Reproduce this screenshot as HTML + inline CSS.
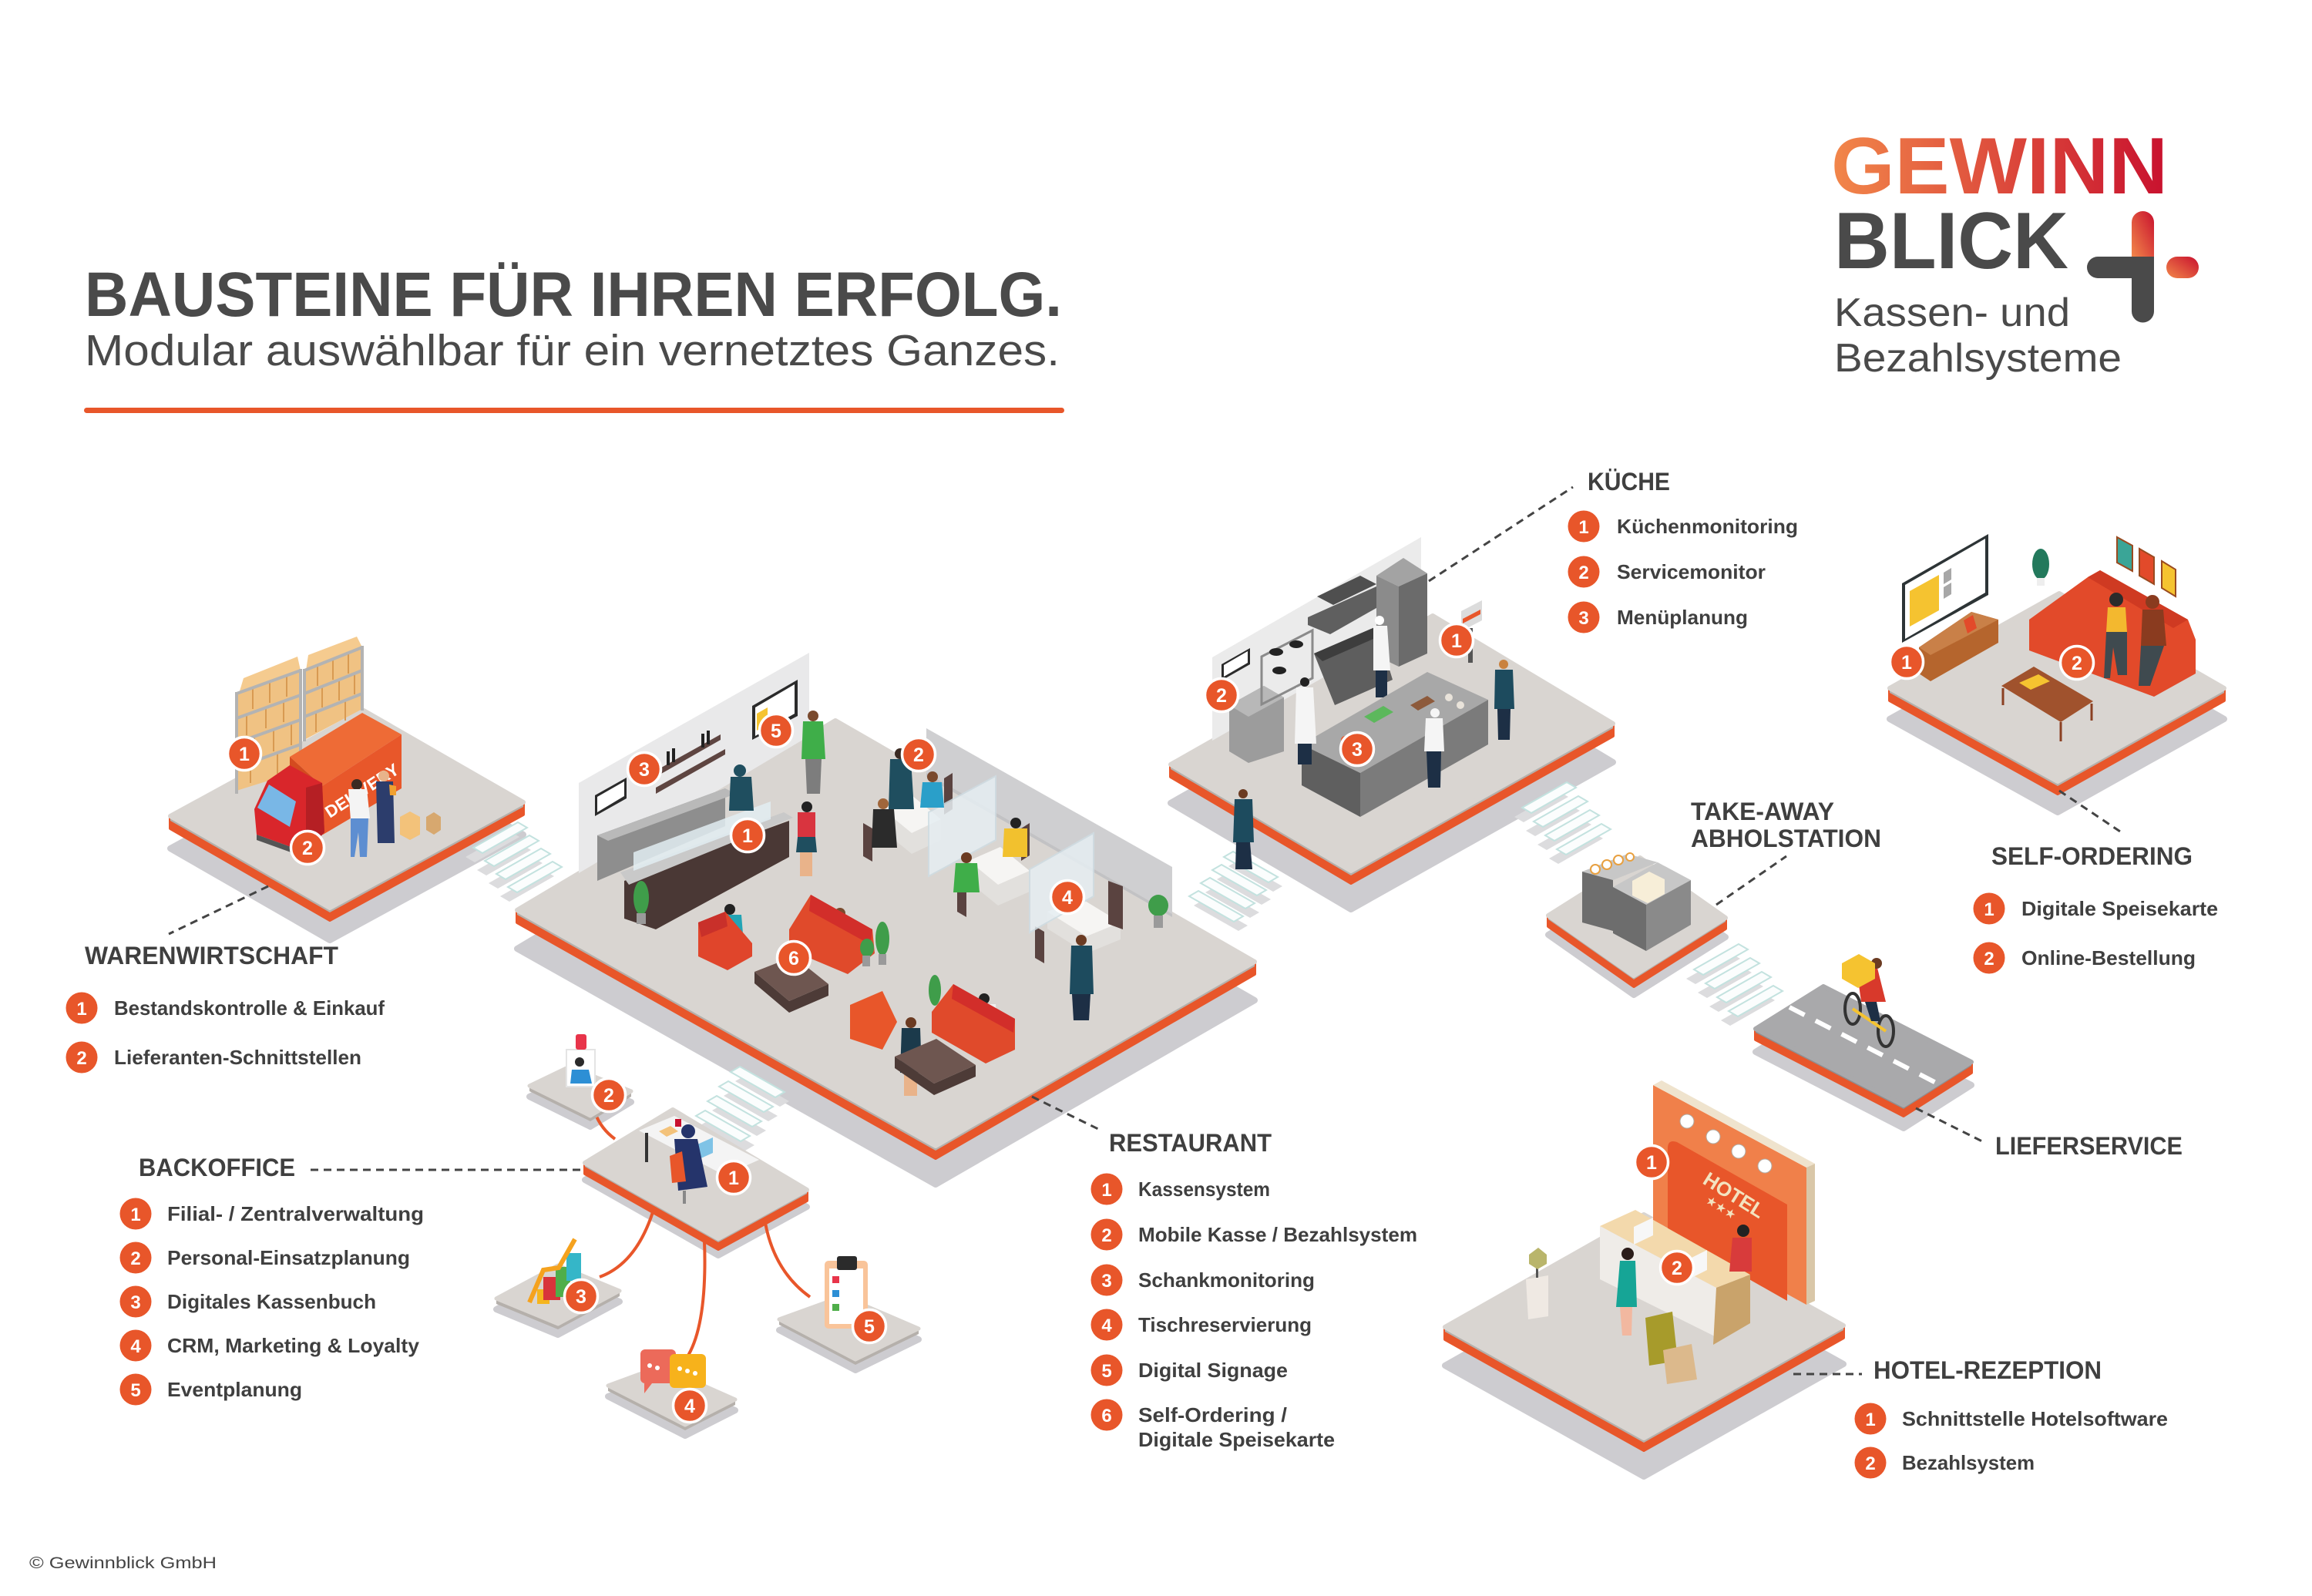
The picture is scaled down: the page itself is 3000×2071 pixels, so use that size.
<!DOCTYPE html>
<html><head><meta charset="utf-8"><style>
html,body{margin:0;padding:0;background:#fff;}
svg{display:block;}
</style></head><body>
<svg width="3000" height="2071" viewBox="0 0 3000 2071" xmlns="http://www.w3.org/2000/svg" font-family="'Liberation Sans', Arial, sans-serif">
<defs>
<linearGradient id="lg" gradientUnits="userSpaceOnUse" x1="2376" y1="0" x2="2816" y2="0"><stop offset="0" stop-color="#f2874a"/><stop offset="1" stop-color="#c8102e"/></linearGradient>
<linearGradient id="lgv" x1="0" y1="1" x2="1" y2="0"><stop offset="0" stop-color="#f2874a"/><stop offset="1" stop-color="#c8102e"/></linearGradient>
</defs>
<rect width="3000" height="2071" fill="#fff"/>

<!-- TITLE -->
<text x="110" y="410" font-size="82" font-weight="bold" fill="#4a4a4a" textLength="1268" lengthAdjust="spacingAndGlyphs">BAUSTEINE FÜR IHREN ERFOLG.</text>
<text x="110" y="474" font-size="57" fill="#4a4a4a" textLength="1265" lengthAdjust="spacingAndGlyphs">Modular auswählbar für ein vernetztes Ganzes.</text>
<rect x="109" y="529" width="1272" height="7" rx="3.5" fill="#e8562a"/>

<!-- LOGO -->
<text x="2376" y="251" font-size="104" font-weight="bold" fill="url(#lg)" textLength="437" lengthAdjust="spacingAndGlyphs">GEWINN</text>
<text x="2380" y="348" font-size="104" font-weight="bold" fill="#4a4a4a" textLength="304" lengthAdjust="spacingAndGlyphs">BLICK</text>
<path d="M2766 333 V288.5 A14.5 14.5 0 0 1 2795 288.5 V333 Z" fill="url(#lgv)"/>
<path d="M2722 333 H2795 V404 A14.5 14.5 0 0 1 2766 404 V361 H2722 A14 14 0 0 1 2722 333 Z" fill="#4a4a4a"/>
<rect x="2811" y="333" width="42" height="28" rx="14" fill="url(#lgv)"/>
<text x="2380" y="423" font-size="52" fill="#4a4a4a" textLength="306" lengthAdjust="spacingAndGlyphs">Kassen- und</text>
<text x="2380" y="482" font-size="52" fill="#4a4a4a" textLength="373" lengthAdjust="spacingAndGlyphs">Bezahlsysteme</text>

<!-- SHADOWS -->
<g fill="#cdccd0" stroke="#cdccd0" stroke-width="8" stroke-linejoin="round">
<polygon points="221,1101 472,964 679,1083 428,1220"/>
<polygon points="671,1231 1084,985 1628,1298 1214,1537"/>
<polygon points="1519,1042 1859,849 2093,989 1753,1180"/>
<polygon points="2452,933 2672,810 2886,933 2670,1054"/>
<polygon points="2009,1213 2128,1138 2239,1216 2120,1291"/>
<polygon points="2278,1365 2366,1310 2558,1408 2470,1464"/>
<polygon points="1875,1772 2133,1626 2392,1770 2133,1916"/>
<polygon points="759,1531 873,1462 1047,1566 932,1629"/>
<polygon points="687,1423 739,1398 819,1430 766,1462"/>
<polygon points="644,1699 724,1656 804,1689 724,1732"/>
<polygon points="789,1812 857,1787 954,1830 889,1863"/>
<polygon points="1011,1726 1094,1696 1192,1738 1110,1778"/>
</g>

<!-- STEPPING STONES shadows -->
<g fill="#dcdcde">
<polygon points="604,1112 662,1079 674,1086 616,1119"/><polygon points="619,1129 677,1096 689,1103 631,1136"/><polygon points="634,1146 692,1113 704,1120 646,1153"/><polygon points="649,1163 707,1130 719,1137 661,1170"/>
<polygon points="1606,1117 1664,1150 1652,1157 1594,1124"/><polygon points="1591,1134 1649,1167 1637,1174 1579,1141"/><polygon points="1576,1151 1634,1184 1622,1191 1564,1158"/><polygon points="1561,1168 1619,1201 1607,1208 1549,1175"/>
<polygon points="966,1396 1024,1429 1012,1436 954,1403"/><polygon points="951,1415 1009,1448 997,1455 939,1422"/><polygon points="936,1434 994,1467 982,1474 924,1441"/><polygon points="921,1453 979,1486 967,1493 909,1460"/>
<polygon points="1965,1060 2023,1027 2035,1034 1977,1067"/><polygon points="1980,1078 2038,1045 2050,1052 1992,1085"/><polygon points="1995,1096 2053,1063 2065,1070 2007,1103"/><polygon points="2010,1114 2068,1081 2080,1088 2022,1121"/>
<polygon points="2188,1270 2246,1237 2258,1244 2200,1277"/><polygon points="2203,1288 2261,1255 2273,1262 2215,1295"/><polygon points="2218,1306 2276,1273 2288,1280 2230,1313"/><polygon points="2233,1324 2291,1291 2303,1298 2245,1331"/>
</g>
<g fill="#fbfdfd" stroke="#c3e2df" stroke-width="2">
<polygon points="614,1100 672,1067 684,1074 626,1107"/><polygon points="629,1117 687,1084 699,1091 641,1124"/><polygon points="644,1134 702,1101 714,1108 656,1141"/><polygon points="659,1151 717,1118 729,1125 671,1158"/>
<polygon points="1600,1105 1658,1138 1646,1145 1588,1112"/><polygon points="1585,1122 1643,1155 1631,1162 1573,1129"/><polygon points="1570,1139 1628,1172 1616,1179 1558,1146"/><polygon points="1555,1156 1613,1189 1601,1196 1543,1163"/>
<polygon points="960,1384 1018,1417 1006,1424 948,1391"/><polygon points="945,1403 1003,1436 991,1443 933,1410"/><polygon points="930,1422 988,1455 976,1462 918,1429"/><polygon points="915,1441 973,1474 961,1481 903,1448"/>
<polygon points="1975,1048 2033,1015 2045,1022 1987,1055"/><polygon points="1990,1066 2048,1033 2060,1040 2002,1073"/><polygon points="2005,1084 2063,1051 2075,1058 2017,1091"/><polygon points="2020,1102 2078,1069 2090,1076 2032,1109"/>
<polygon points="2198,1258 2256,1225 2268,1232 2210,1265"/><polygon points="2213,1276 2271,1243 2283,1250 2225,1283"/><polygon points="2228,1294 2286,1261 2298,1268 2240,1301"/><polygon points="2243,1312 2301,1279 2313,1286 2255,1319"/>
</g>

<!-- BACKOFFICE CONNECTORS -->
<g fill="none" stroke="#e8562a" stroke-width="4">
<path d="M772 1444 Q780 1465 798 1478"/>
<path d="M847 1573 Q825 1640 778 1657"/>
<path d="M914 1610 Q918 1720 891 1762"/>
<path d="M993 1587 Q1005 1650 1051 1683"/>
</g>

<!-- PLATFORMS -->
<g stroke-linejoin="round">
<polygon points="221,1059 428,1178 679,1041 679,1057 428,1194 221,1075" fill="#e8562a" stroke="#e8562a" stroke-width="4"/>
<polygon points="221,1059 428,1178 679,1041 679,1047 428,1184 221,1065" fill="#b5b0ab"/>
<polygon points="221,1059 472,922 679,1041 428,1178" fill="#d9d5d1" stroke="#d9d5d1" stroke-width="6"/>
<polygon points="671,1181 1214,1487 1628,1248 1628,1264 1214,1503 671,1197" fill="#e8562a" stroke="#e8562a" stroke-width="4"/>
<polygon points="671,1181 1214,1487 1628,1248 1628,1254 1214,1493 671,1187" fill="#b5b0ab"/>
<polygon points="671,1181 1084,935 1628,1248 1214,1487" fill="#d9d5d1" stroke="#d9d5d1" stroke-width="6"/>
<polygon points="1519,992 1753,1130 2093,939 2093,955 1753,1146 1519,1008" fill="#e8562a" stroke="#e8562a" stroke-width="4"/>
<polygon points="1519,992 1753,1130 2093,939 2093,945 1753,1136 1519,998" fill="#b5b0ab"/>
<polygon points="1519,992 1859,799 2093,939 1753,1130" fill="#d9d5d1" stroke="#d9d5d1" stroke-width="6"/>
<polygon points="2452,893 2670,1014 2886,893 2886,909 2670,1030 2452,909" fill="#e8562a" stroke="#e8562a" stroke-width="4"/>
<polygon points="2452,893 2670,1014 2886,893 2886,899 2670,1020 2452,899" fill="#b5b0ab"/>
<polygon points="2452,893 2672,770 2886,893 2670,1014" fill="#d9d5d1" stroke="#d9d5d1" stroke-width="6"/>
<polygon points="2009,1188 2120,1266 2239,1191 2239,1205 2120,1280 2009,1202" fill="#e8562a" stroke="#e8562a" stroke-width="4"/>
<polygon points="2009,1188 2120,1266 2239,1191 2239,1196 2120,1271 2009,1193" fill="#b5b0ab"/>
<polygon points="2009,1188 2128,1113 2239,1191 2120,1266" fill="#d9d5d1" stroke="#d9d5d1" stroke-width="6"/>
<polygon points="2278,1335 2470,1434 2558,1378 2558,1392 2470,1448 2278,1349" fill="#e8562a" stroke="#e8562a" stroke-width="4"/>
<polygon points="2278,1335 2470,1434 2558,1378 2558,1383 2470,1439 2278,1340" fill="#8f8f91"/>
<polygon points="2278,1335 2366,1280 2558,1378 2470,1434" fill="#a9a9ab" stroke="#a9a9ab" stroke-width="6"/>
<line x1="2322" y1="1307" x2="2514" y2="1406" stroke="#ffffff" stroke-width="6" stroke-dasharray="22 16"/>
<polygon points="1875,1722 2133,1866 2392,1720 2392,1736 2133,1882 1875,1738" fill="#e8562a" stroke="#e8562a" stroke-width="4"/>
<polygon points="1875,1722 2133,1866 2392,1720 2392,1726 2133,1872 1875,1728" fill="#b5b0ab"/>
<polygon points="1875,1722 2133,1576 2392,1720 2133,1866" fill="#d9d5d1" stroke="#d9d5d1" stroke-width="6"/>
<polygon points="759,1509 932,1607 1047,1544 1047,1558 932,1621 759,1523" fill="#e8562a" stroke="#e8562a" stroke-width="4"/>
<polygon points="759,1509 932,1607 1047,1544 1047,1549 932,1612 759,1514" fill="#b5b0ab"/>
<polygon points="759,1509 873,1440 1047,1544 932,1607" fill="#d9d5d1" stroke="#d9d5d1" stroke-width="6"/>
<polygon points="687,1409 766,1448 819,1416 819,1423 766,1455 687,1416" fill="#b5b0ab"/>
<polygon points="687,1409 739,1384 819,1416 766,1448" fill="#d9d5d1" stroke="#d9d5d1" stroke-width="5"/>
<polygon points="644,1685 724,1718 804,1675 804,1682 724,1725 644,1692" fill="#b5b0ab"/>
<polygon points="644,1685 724,1642 804,1675 724,1718" fill="#d9d5d1" stroke="#d9d5d1" stroke-width="5"/>
<polygon points="789,1798 889,1849 954,1816 954,1823 889,1856 789,1805" fill="#b5b0ab"/>
<polygon points="789,1798 857,1773 954,1816 889,1849" fill="#d9d5d1" stroke="#d9d5d1" stroke-width="5"/>
<polygon points="1011,1712 1110,1764 1192,1724 1192,1731 1110,1771 1011,1719" fill="#b5b0ab"/>
<polygon points="1011,1712 1094,1682 1192,1724 1110,1764" fill="#d9d5d1" stroke="#d9d5d1" stroke-width="5"/>
</g>

<!-- WARENWIRTSCHAFT SCENE -->
<g>
<polygon points="307,900 390,870 390,1000 307,1026" fill="#f0c283"/>
<polygon points="310,900 316,880 386,852 390,870" fill="#f5cb8f"/>
<polygon points="395,870 470,840 470,920 395,960" fill="#f0c283"/>
<polygon points="397,870 400,850 463,826 470,840" fill="#f5cb8f"/>
<g stroke="#d89a52" stroke-width="2">
<line x1="328" y1="893" x2="328" y2="920"/><line x1="350" y1="885" x2="350" y2="912"/><line x1="372" y1="877" x2="372" y2="904"/>
<line x1="320" y1="927" x2="320" y2="954"/><line x1="345" y1="918" x2="345" y2="945"/><line x1="368" y1="910" x2="368" y2="937"/>
<line x1="330" y1="956" x2="330" y2="984"/><line x1="355" y1="947" x2="355" y2="975"/><line x1="378" y1="939" x2="378" y2="967"/>
<line x1="325" y1="988" x2="325" y2="1016"/><line x1="360" y1="976" x2="360" y2="1004"/>
<line x1="412" y1="863" x2="412" y2="890"/><line x1="432" y1="855" x2="432" y2="882"/><line x1="452" y1="847" x2="452" y2="874"/>
<line x1="418" y1="891" x2="418" y2="918"/><line x1="440" y1="882" x2="440" y2="909"/><line x1="460" y1="874" x2="460" y2="901"/>
<line x1="410" y1="923" x2="410" y2="950"/><line x1="448" y1="908" x2="448" y2="935"/>
</g>
<g stroke="#b3b3b3" stroke-width="4"><line x1="307" y1="900" x2="390" y2="870"/><line x1="307" y1="932" x2="390" y2="902"/><line x1="307" y1="964" x2="390" y2="934"/><line x1="307" y1="996" x2="390" y2="966"/><line x1="307" y1="898" x2="307" y2="1030"/><line x1="390" y1="868" x2="390" y2="1002"/></g>
<g stroke="#b3b3b3" stroke-width="4"><line x1="395" y1="870" x2="470" y2="840"/><line x1="395" y1="900" x2="470" y2="870"/><line x1="395" y1="930" x2="470" y2="900"/><line x1="395" y1="868" x2="395" y2="962"/><line x1="470" y1="838" x2="470" y2="922"/></g>
<polygon points="376,982 470,925 521,953 418,1020" fill="#ee6b36"/>
<polygon points="418,1020 521,953 521,1023 419,1083" fill="#e8572a"/>
<polygon points="376,982 418,1020 419,1083 376,1050" fill="#d44b1f"/>
<text x="428" y="1062" font-size="22" font-weight="bold" fill="#fff" transform="rotate(-33 428 1062)">DELIVERY</text>
<polygon points="330,1050 347,1013 376,993 418,1016 421,1080 397,1106 333,1083" fill="#d9262b"/>
<polygon points="397,1022 418,1016 421,1080 397,1106" fill="#b51f24"/>
<polygon points="334,1048 349,1018 384,1040 376,1073" fill="#79b7e6"/>
<polygon points="333,1083 397,1106 397,1113 333,1090" fill="#555"/>
<circle cx="463" cy="1018" r="7" fill="#3a2a22"/>
<polygon points="452,1024 476,1024 480,1062 455,1064" fill="#f4f4f4"/>
<polygon points="455,1062 478,1062 476,1112 467,1112 465,1080 460,1112 455,1112" fill="#5d8ed1"/>
<circle cx="498" cy="1007" r="7" fill="#e8b38a"/>
<polygon points="488,1014 510,1014 512,1094 490,1094" fill="#2c3d6c"/>
<polygon points="505,1018 514,1020 514,1032 506,1032" fill="#f0a030"/>
<polygon points="519,1060 532,1053 545,1060 545,1083 532,1090 519,1083" fill="#f3c27a"/>
<polygon points="553,1060 563,1054 572,1060 572,1077 563,1083 553,1077" fill="#d7a86f"/>
</g>

<!-- RESTAURANT SCENE -->
<g>
<polygon points="751,1016 1050,847 1050,955 751,1133" fill="#e9e9ea"/>
<polygon points="1202,945 1521,1125 1521,1186 1202,1003" fill="#cfcfd1"/>
<polygon points="772,1032 813,1009 813,1036 772,1059" fill="#2b2b2b"/>
<polygon points="775,1034 810,1014 810,1033 775,1054" fill="#fff"/>
<polygon points="976,916 1035,882 1035,929 976,960" fill="#2b2b2b"/>
<polygon points="980,918 1031,888 1031,926 980,955" fill="#fff"/>
<polygon points="982,926 996,918 996,940 982,948" fill="#f5c330"/>
<polygon points="851,1000 935,953 935,960 851,1008" fill="#5e4541"/>
<polygon points="851,1022 941,972 941,979 851,1030" fill="#5e4541"/>
<g fill="#222"><rect x="865" y="975" width="4" height="18"/><rect x="872" y="971" width="4" height="18"/><rect x="910" y="952" width="4" height="18"/><rect x="917" y="948" width="4" height="18"/></g>
<polygon points="775,1084 941,1023 941,1072 775,1143" fill="#8e8e8e"/>
<polygon points="775,1084 941,1023 955,1030 789,1091" fill="#b9b9b9"/>
<polygon points="810,1143 1024,1065 1024,1112 851,1206 810,1192" fill="#4a3835"/>
<polygon points="805,1132 1017,1054 1029,1061 816,1148" fill="#c9c9c9"/>
<polygon points="822,1130 1000,1063 1000,1040 822,1106" fill="#e2edf2" opacity="0.85"/>
<circle cx="960" cy="1000" r="8" fill="#1f4e5f"/><polygon points="948,1008 975,1008 978,1052 946,1052" fill="#1f4e5f"/>
<polygon points="1202,1003 1521,1186 1521,1190 1202,1008" fill="#c2c2c4"/>
<polygon points="1145,1050 1183,1081 1221,1063 1221,1090 1183,1108 1145,1077" fill="#e2e0dd"/>
<polygon points="1145,1050 1183,1032 1221,1063 1183,1081" fill="#f6f5f3"/>
<polygon points="1257,1117 1295,1148 1336,1130 1336,1157 1295,1175 1257,1144" fill="#e2e0dd"/>
<polygon points="1257,1117 1298,1099 1336,1130 1295,1148" fill="#f6f5f3"/>
<polygon points="1359,1183 1410,1215 1454,1197 1454,1219 1410,1237 1359,1205" fill="#e2e0dd"/>
<polygon points="1359,1183 1403,1166 1454,1197 1410,1215" fill="#f6f5f3"/>
<g fill="#5a4340">
<polygon points="1120,1068 1132,1075 1132,1118 1120,1111"/><polygon points="1242,1137 1254,1144 1254,1190 1242,1183"/>
<polygon points="1343,1202 1355,1209 1355,1250 1343,1243"/><polygon points="1438,1143 1457,1150 1457,1206 1438,1199"/>
<polygon points="1225,1010 1236,1003 1236,1050 1225,1057"/><polygon points="1325,1075 1336,1068 1336,1110 1325,1117"/>
</g>
<polygon points="1205,1054 1292,1007 1292,1090 1205,1137" fill="#e6eef2" opacity="0.85" stroke="#cfdde3" stroke-width="2"/>
<polygon points="1336,1128 1419,1081 1419,1163 1336,1210" fill="#e6eef2" opacity="0.85" stroke="#cfdde3" stroke-width="2"/>
<circle cx="1055" cy="929" r="7" fill="#7a4a2e"/><polygon points="1042,936 1068,936 1071,985 1040,985" fill="#3fae49"/><polygon points="1045,985 1066,985 1064,1030 1047,1030" fill="#7d7d7d"/>
<circle cx="1047" cy="1047" r="7" fill="#222"/><polygon points="1035,1054 1058,1054 1058,1086 1035,1086" fill="#d9343f"/><polygon points="1035,1086 1058,1086 1060,1106 1033,1106" fill="#1f4e5f"/><polygon points="1038,1106 1054,1106 1054,1137 1038,1137" fill="#e9b38a"/>
<circle cx="1168" cy="978" r="7" fill="#3a2a22"/><polygon points="1155,985 1182,985 1186,1050 1153,1050" fill="#1f4e5f"/>
<circle cx="1210" cy="1008" r="7" fill="#7a4a2e"/><polygon points="1197,1015 1222,1015 1225,1048 1194,1048" fill="#2a9fc9"/>
<circle cx="1146" cy="1043" r="7" fill="#a0663b"/><polygon points="1133,1050 1160,1050 1164,1100 1131,1100" fill="#2b2b2b"/>
<circle cx="1318" cy="1068" r="7" fill="#222"/><polygon points="1303,1075 1333,1075 1333,1112 1301,1112" fill="#f2c12e"/>
<circle cx="1254" cy="1113" r="7" fill="#6b3b22"/><polygon points="1240,1120 1268,1120 1271,1158 1237,1158" fill="#3fae49"/>
<circle cx="947" cy="1180" r="7" fill="#222"/><polygon points="932,1187 962,1187 966,1236 928,1236" fill="#22a4b5"/>
<circle cx="1090" cy="1185" r="7" fill="#7a4a2e"/><polygon points="1076,1192 1104,1192 1107,1228 1070,1228" fill="#f2c12e"/>
<circle cx="1277" cy="1296" r="7" fill="#222"/><polygon points="1262,1303 1292,1303 1295,1345 1258,1345" fill="#f0f0f0"/>
<circle cx="1182" cy="1327" r="7" fill="#6b3b22"/><polygon points="1170,1334 1194,1334 1196,1392 1168,1392" fill="#1b3a4b"/><polygon points="1173,1392 1190,1392 1190,1422 1173,1422" fill="#e9b38a"/>
<circle cx="1403" cy="1220" r="7" fill="#6b3b22"/><polygon points="1390,1227 1417,1227 1419,1290 1388,1290" fill="#1d4b5e"/><polygon points="1391,1290 1415,1290 1413,1324 1393,1324" fill="#1d2f45"/>
<polygon points="906,1197 941,1183 976,1224 976,1241 944,1259 906,1241" fill="#e0452b"/>
<polygon points="906,1197 941,1183 944,1202 910,1216" fill="#c9302a"/>
<polygon points="1024,1206 1052,1161 1132,1206 1135,1237 1100,1264 1024,1232" fill="#e04a2b"/>
<polygon points="1052,1161 1132,1206 1130,1226 1050,1182" fill="#d22e2a"/>
<polygon points="979,1261 1024,1299 1075,1277 1075,1292 1024,1314 979,1276" fill="#4d3b37"/>
<polygon points="979,1261 1030,1241 1075,1277 1024,1299" fill="#6e5650"/>
<polygon points="1103,1304 1145,1286 1164,1326 1145,1362 1103,1348" fill="#e8562a"/>
<polygon points="1209,1313 1237,1277 1317,1322 1317,1362 1279,1380 1209,1340" fill="#e04a2b"/>
<polygon points="1237,1277 1317,1322 1315,1340 1235,1296" fill="#d22e2a"/>
<polygon points="1161,1371 1212,1406 1266,1382 1266,1397 1212,1421 1161,1386" fill="#4d3b37"/>
<polygon points="1161,1371 1215,1348 1266,1382 1212,1406" fill="#6e5650"/>
<g fill="#3f9d4a"><ellipse cx="832" cy="1165" rx="10" ry="22"/><ellipse cx="1503" cy="1175" rx="13" ry="14"/><ellipse cx="1145" cy="1218" rx="9" ry="22"/><ellipse cx="1213" cy="1285" rx="8" ry="20"/><ellipse cx="1125" cy="1230" rx="9" ry="12"/></g>
<g fill="#9a9a9a"><rect x="826" y="1185" width="12" height="14"/><rect x="1497" y="1188" width="12" height="16"/><rect x="1140" y="1238" width="10" height="14"/><rect x="1119" y="1240" width="10" height="14"/></g>
</g>

<!-- KUECHE SCENE -->
<g>
<polygon points="1573,853 1844,697 1844,807 1573,961" fill="#ebebeb"/>
<polygon points="1585,862 1622,841 1622,862 1585,883" fill="#2b2b2b"/><polygon points="1588,863 1619,845 1619,860 1588,878" fill="#fff"/>
<polygon points="1595,915 1640,890 1666,905 1666,975 1620,990 1595,975" fill="#9c9c9c"/>
<polygon points="1595,915 1640,890 1666,905 1620,930" fill="#b8b8b8"/>
<polygon points="1637,852 1703,818 1703,880 1637,914" fill="none" stroke="#8a8a8a" stroke-width="3"/>
<g fill="#222"><ellipse cx="1656" cy="846" rx="9" ry="5"/><ellipse cx="1682" cy="836" rx="9" ry="5"/><ellipse cx="1660" cy="870" rx="9" ry="5"/></g>
<polygon points="1709,774 1765,747 1786,758 1730,785" fill="#4f4f4f"/>
<polygon points="1697,801 1786,761 1800,767 1800,781 1726,823 1697,811" fill="#5f5f5f"/>
<polygon points="1705,848 1786,813 1807,882 1732,915" fill="#5e5e5e"/>
<polygon points="1705,848 1786,813 1798,822 1716,858" fill="#3d3d3d"/>
<polygon points="1786,747 1821,724 1852,744 1815,761" fill="#a3a3a3"/>
<polygon points="1786,747 1815,761 1815,865 1786,851" fill="#8b8b8b"/>
<polygon points="1815,761 1852,744 1852,848 1815,865" fill="#6b6b6b"/>
<circle cx="1790" cy="805" r="6" fill="#fff"/><polygon points="1782,812 1800,812 1804,870 1782,870" fill="#f5f5f5"/><polygon points="1785,870 1800,870 1800,905 1785,905" fill="#1d2f45"/>
<polygon points="1689,966 1852,872 1931,908 1765,1003" fill="#a8a8a8"/>
<polygon points="1689,966 1765,1003 1765,1060 1689,1019" fill="#5f5f5f"/>
<polygon points="1765,1003 1931,908 1931,966 1765,1060" fill="#7b7b7b"/>
<polygon points="1770,930 1795,916 1808,924 1783,938" fill="#5cb85c"/>
<polygon points="1830,915 1852,903 1862,910 1840,922" fill="#8d5a3b"/>
<circle cx="1745" cy="960" r="5" fill="#e8562a"/><circle cx="1880" cy="905" r="5" fill="#e9e3da"/><circle cx="1895" cy="915" r="5" fill="#e9e3da"/>
<circle cx="1693" cy="885" r="6" fill="#222"/><polygon points="1682,892 1704,892 1708,965 1680,965" fill="#f5f5f5"/><polygon points="1684,965 1702,965 1702,992 1684,992" fill="#1d2f45"/>
<circle cx="1862" cy="925" r="6" fill="#f5f5f5"/><polygon points="1850,932 1872,932 1874,975 1848,975" fill="#f5f5f5"/><polygon points="1851,975 1870,975 1869,1022 1853,1022" fill="#1d2f45"/>
<circle cx="1951" cy="862" r="6" fill="#c9823f"/><polygon points="1940,869 1963,869 1965,920 1939,920" fill="#1d4b5e"/><polygon points="1943,920 1960,920 1959,960 1944,960" fill="#1d2f45"/>
<rect x="1905" y="815" width="6" height="45" fill="#555"/>
<polygon points="1896,793 1923,779 1923,805 1896,819" fill="#dcdcdc"/><polygon points="1898,803 1921,791 1921,797 1898,809" fill="#e8562a"/>
<circle cx="1613" cy="1030" r="6" fill="#6b3b22"/><polygon points="1602,1037 1625,1037 1627,1093 1600,1093" fill="#1d4b5e"/><polygon points="1604,1093 1622,1093 1625,1128 1603,1128" fill="#1d2f45"/>
</g>

<!-- SELF-ORDERING SCENE -->
<g>
<polygon points="2468,757 2580,693 2580,772 2468,834" fill="#2d3436"/>
<polygon points="2472,759 2576,699 2576,769 2472,829" fill="#fff"/>
<polygon points="2478,767 2516,746 2516,792 2478,813" fill="#f5c330"/>
<g fill="#a7a7a7"><polygon points="2522,743 2532,737 2532,752 2522,758"/><polygon points="2522,762 2532,756 2532,771 2522,777"/></g>
<polygon points="2490,840 2558,794 2593,804 2593,834 2505,884 2490,874" fill="#b5652d"/>
<polygon points="2490,840 2558,794 2593,804 2505,850" fill="#c98048"/>
<polygon points="2548,805 2560,798 2565,815 2553,822" fill="#e24a2a"/>
<ellipse cx="2648" cy="732" rx="11" ry="20" fill="#23795c"/><rect x="2643" y="750" width="10" height="10" fill="#eee"/>
<polygon points="2633,804 2709,749 2725,740 2839,804 2849,830 2849,874 2795,904 2633,844" fill="#e24a2a"/>
<polygon points="2709,749 2725,740 2839,804 2820,815" fill="#cf3a22"/>
<circle cx="2746" cy="778" r="9" fill="#2b2b2b"/><polygon points="2735,788 2758,788 2760,820 2733,820" fill="#f3b82f"/>
<circle cx="2793" cy="781" r="9" fill="#8a3b1f"/><polygon points="2780,791 2807,791 2811,838 2778,838" fill="#8a3b1f"/>
<polygon points="2733,820 2760,820 2760,876 2748,876 2742,840 2738,880 2730,880" fill="#3f4a4f"/>
<polygon points="2778,838 2808,838 2790,890 2775,890" fill="#3f4a4f"/>
<polygon points="2597,890 2639,865 2716,910 2674,937" fill="#a0522d"/>
<g stroke="#8a4022" stroke-width="3"><line x1="2599" y1="893" x2="2599" y2="915"/><line x1="2674" y1="937" x2="2674" y2="962"/><line x1="2714" y1="913" x2="2714" y2="935"/></g>
<polygon points="2620,886 2645,875 2660,884 2635,895" fill="#f5c330"/>
<polygon points="2747,697 2767,708 2767,741 2747,730" fill="#3aa597" stroke="#9a4a20" stroke-width="2"/>
<polygon points="2776,712 2795,723 2795,758 2776,747" fill="#e24a2a" stroke="#9a4a20" stroke-width="2"/>
<polygon points="2805,728 2823,739 2823,774 2805,763" fill="#f5c330" stroke="#9a4a20" stroke-width="2"/>
</g>

<!-- TAKE-AWAY SCENE -->
<g>
<polygon points="2053,1131 2112,1108 2151,1119 2093,1142" fill="#c7c7c7"/>
<polygon points="2053,1131 2093,1142 2093,1208 2053,1197" fill="#6d6d6d"/>
<polygon points="2093,1151 2151,1119 2194,1142 2136,1174" fill="#c7c7c7"/>
<polygon points="2093,1151 2136,1174 2136,1234 2093,1211" fill="#6d6d6d"/>
<polygon points="2136,1174 2194,1142 2194,1200 2136,1234" fill="#8a8a8a"/>
<g fill="#fff" stroke="#e8a040" stroke-width="2"><circle cx="2070" cy="1128" r="6"/><circle cx="2085" cy="1122" r="6"/><circle cx="2100" cy="1116" r="6"/><circle cx="2115" cy="1112" r="5"/></g>
<polygon points="2118,1143 2140,1131 2160,1141 2160,1160 2138,1172 2118,1162" fill="#f7eed8"/>
</g>

<!-- LIEFERSERVICE rider -->
<g>
<ellipse cx="2404" cy="1309" rx="10" ry="20" fill="none" stroke="#333" stroke-width="4"/>
<ellipse cx="2447" cy="1338" rx="10" ry="20" fill="none" stroke="#333" stroke-width="4"/>
<line x1="2404" y1="1309" x2="2447" y2="1338" stroke="#f5c330" stroke-width="4"/>
<polygon points="2409,1256 2436,1256 2447,1300 2415,1300" fill="#d8392b"/>
<circle cx="2435" cy="1250" r="7" fill="#6b3b22"/>
<polygon points="2390,1250 2412,1238 2433,1250 2433,1270 2411,1282 2390,1270" fill="#f5c330"/>
<polygon points="2420,1300 2435,1300 2440,1325 2428,1325" fill="#1d2f45"/>
</g>

<!-- HOTEL SCENE -->
<g>
<polygon points="2145,1408 2344,1515 2344,1693 2145,1583" fill="#f0804a"/>
<polygon points="2145,1408 2156,1402 2355,1510 2344,1515" fill="#efe3cd"/>
<polygon points="2344,1515 2355,1510 2355,1688 2344,1693" fill="#d9c7a8"/>
<path d="M2164 1490 Q2164 1478 2176 1482 L2319 1563 L2319 1688 L2164 1600 Z" fill="#e8562a"/>
<g fill="#fff" stroke="#b0a9a0" stroke-width="1"><circle cx="2189" cy="1455" r="9"/><circle cx="2223" cy="1475" r="9"/><circle cx="2256" cy="1494" r="9"/><circle cx="2290" cy="1513" r="9"/></g>
<text x="2208" y="1535" font-size="26" font-weight="bold" fill="#f3e3c0" transform="rotate(32 2208 1535)">HOTEL</text>
<text x="2212" y="1560" font-size="16" fill="#f3e3c0" transform="rotate(32 2212 1560)">★★★</text>
<polygon points="2076,1591 2122,1570 2271,1654 2227,1671" fill="#f3d9ac"/>
<polygon points="2076,1591 2227,1671 2227,1735 2076,1660" fill="#efece8"/>
<polygon points="2227,1671 2271,1654 2271,1717 2223,1745" fill="#c9a36b"/>
<polygon points="2120,1592 2145,1580 2145,1603 2120,1615" fill="#f7f7f7"/>
<polygon points="2195,1632 2215,1622 2215,1648 2195,1658" fill="#f7f7f7"/>
<circle cx="2262" cy="1597" r="8" fill="#222"/><polygon points="2248,1606 2273,1606 2273,1650 2244,1650" fill="#d83b3b"/>
<circle cx="2112" cy="1627" r="8" fill="#2b1d1a"/><polygon points="2102,1636 2122,1636 2124,1696 2097,1696" fill="#16a596"/>
<polygon points="2102,1696 2118,1696 2117,1733 2105,1733" fill="#f2b8a0"/>
<polygon points="2135,1710 2170,1702 2177,1766 2140,1772" fill="#a79b2b"/>
<polygon points="2158,1752 2195,1744 2202,1790 2163,1796" fill="#dcb98c"/>
<polygon points="1980,1660 2009,1655 2009,1708 1983,1712" fill="#efe9e3"/>
<rect x="1993" y="1640" width="3" height="18" fill="#555"/>
<polygon points="1984,1628 1996,1619 2007,1628 2007,1640 1995,1647 1984,1640" fill="#b9b56b"/>
</g>

<!-- BACKOFFICE SCENE -->
<g>
<polygon points="829,1467 875,1448 985,1505 940,1525" fill="#f4f4f4"/>
<rect x="837" y="1470" width="4" height="38" fill="#333"/>
<polygon points="855,1468 870,1461 880,1468 865,1475" fill="#f3c27a"/>
<rect x="876" y="1452" width="8" height="10" fill="#c8102e"/>
<polygon points="905,1485 925,1476 925,1496 905,1505" fill="#7fc3e6"/>
<circle cx="893" cy="1468" r="9" fill="#25346b"/>
<polygon points="875,1478 905,1478 918,1540 880,1545" fill="#25346b"/>
<polygon points="869,1500 885,1494 890,1533 872,1535" fill="#e8562a"/>
<line x1="888" y1="1545" x2="888" y2="1562" stroke="#888" stroke-width="4"/>
<polygon points="735,1362 772,1362 772,1410 735,1410" fill="#fff" stroke="#e4e4e4" stroke-width="2"/>
<circle cx="752" cy="1378" r="6" fill="#2b2b2b"/><polygon points="742,1388 764,1388 768,1406 740,1406" fill="#2d8fd5"/>
<rect x="747" y="1342" width="14" height="20" rx="3" fill="#e8344a"/>
<polygon points="697,1673 713,1673 713,1692 697,1692" fill="#f5b51e"/>
<polygon points="705,1657 727,1657 727,1687 705,1687" fill="#d8343b"/>
<polygon points="721,1644 740,1644 740,1683 721,1683" fill="#4fae4a"/>
<polygon points="735,1626 754,1626 754,1662 735,1662" fill="#35b6c8"/>
<polyline points="687,1690 705,1648 725,1645 746,1608" fill="none" stroke="#f5a21e" stroke-width="6"/>
<rect x="831" y="1751" width="46" height="44" rx="6" fill="#ec6a5a"/>
<polygon points="836,1795 846,1795 836,1808" fill="#ec6a5a"/>
<rect x="869" y="1757" width="47" height="44" rx="6" fill="#f7b21b"/>
<g fill="#fff"><circle cx="843" cy="1772" r="3"/><circle cx="853" cy="1775" r="3"/><circle cx="882" cy="1776" r="3"/><circle cx="892" cy="1779" r="3"/><circle cx="902" cy="1782" r="3"/></g>
<rect x="1070" y="1636" width="56" height="88" rx="5" fill="#f9c49a"/>
<rect x="1076" y="1646" width="44" height="72" fill="#fff"/>
<rect x="1086" y="1630" width="26" height="18" rx="3" fill="#2b2b2b"/>
<rect x="1080" y="1656" width="9" height="9" fill="#e8344a"/><rect x="1080" y="1674" width="9" height="9" fill="#2d8fd5"/><rect x="1080" y="1692" width="9" height="9" fill="#4fae4a"/>
</g>

<!-- DASHED LEADERS -->
<g stroke="#444" stroke-width="3" stroke-dasharray="10 7" fill="none">
<line x1="348" y1="1150" x2="219" y2="1212"/>
<line x1="1339" y1="1423" x2="1425" y2="1465"/>
<line x1="1854" y1="754" x2="2041" y2="632"/>
<line x1="2227" y1="1174" x2="2318" y2="1111"/>
<line x1="2672" y1="1026" x2="2751" y2="1079"/>
<line x1="2486" y1="1438" x2="2572" y2="1481"/>
<line x1="403" y1="1518" x2="760" y2="1518"/>
<line x1="2327" y1="1783" x2="2416" y2="1783"/>
</g>

<!-- NUMBER BADGES IN ILLUSTRATION -->
<g fill="#e8562a" stroke="#fff" stroke-width="3.5">
<circle cx="317" cy="978" r="21.5"/><circle cx="399" cy="1100" r="21.5"/>
<circle cx="970" cy="1084" r="21.5"/><circle cx="1192" cy="979" r="21.5"/><circle cx="836" cy="998" r="21.5"/><circle cx="1385" cy="1164" r="21.5"/><circle cx="1007" cy="948" r="21.5"/><circle cx="1030" cy="1243" r="21.5"/>
<circle cx="952" cy="1528" r="21.5"/><circle cx="790" cy="1421" r="21.5"/><circle cx="754" cy="1682" r="21.5"/><circle cx="895" cy="1824" r="21.5"/><circle cx="1128" cy="1721" r="21.5"/>
<circle cx="1890" cy="831" r="21.5"/><circle cx="1585" cy="902" r="21.5"/><circle cx="1761" cy="972" r="21.5"/>
<circle cx="2474" cy="859" r="21.5"/><circle cx="2695" cy="860" r="21.5"/>
<circle cx="2143" cy="1508" r="21.5"/><circle cx="2176" cy="1645" r="21.5"/>
</g>
<g fill="#fff" font-size="25" font-weight="bold" text-anchor="middle">
<text x="317" y="987">1</text><text x="399" y="1109">2</text>
<text x="970" y="1093">1</text><text x="1192" y="988">2</text><text x="836" y="1007">3</text><text x="1385" y="1173">4</text><text x="1007" y="957">5</text><text x="1030" y="1252">6</text>
<text x="952" y="1537">1</text><text x="790" y="1430">2</text><text x="754" y="1691">3</text><text x="895" y="1833">4</text><text x="1128" y="1730">5</text>
<text x="1890" y="840">1</text><text x="1585" y="911">2</text><text x="1761" y="981">3</text>
<text x="2474" y="868">1</text><text x="2695" y="869">2</text>
<text x="2143" y="1517">1</text><text x="2176" y="1654">2</text>
</g>

<!-- LEGEND CIRCLES -->
<g fill="#e8562a">
<circle cx="106" cy="1308" r="20.5"/><circle cx="106" cy="1372" r="20.5"/>
<circle cx="176" cy="1575" r="20.5"/><circle cx="176" cy="1632" r="20.5"/><circle cx="176" cy="1689" r="20.5"/><circle cx="176" cy="1746" r="20.5"/><circle cx="176" cy="1803" r="20.5"/>
<circle cx="1436" cy="1543" r="20.5"/><circle cx="1436" cy="1602" r="20.5"/><circle cx="1436" cy="1661" r="20.5"/><circle cx="1436" cy="1719" r="20.5"/><circle cx="1436" cy="1778" r="20.5"/><circle cx="1436" cy="1836" r="20.5"/>
<circle cx="2055" cy="683" r="20.5"/><circle cx="2055" cy="742" r="20.5"/><circle cx="2055" cy="801" r="20.5"/>
<circle cx="2581" cy="1179" r="20.5"/><circle cx="2581" cy="1243" r="20.5"/>
<circle cx="2427" cy="1841" r="20.5"/><circle cx="2427" cy="1898" r="20.5"/>
</g>
<g fill="#fff" font-size="24" font-weight="bold" text-anchor="middle">
<text x="106" y="1317">1</text><text x="106" y="1381">2</text>
<text x="176" y="1584">1</text><text x="176" y="1641">2</text><text x="176" y="1698">3</text><text x="176" y="1755">4</text><text x="176" y="1812">5</text>
<text x="1436" y="1552">1</text><text x="1436" y="1611">2</text><text x="1436" y="1670">3</text><text x="1436" y="1728">4</text><text x="1436" y="1787">5</text><text x="1436" y="1845">6</text>
<text x="2055" y="692">1</text><text x="2055" y="751">2</text><text x="2055" y="810">3</text>
<text x="2581" y="1188">1</text><text x="2581" y="1252">2</text>
<text x="2427" y="1850">1</text><text x="2427" y="1907">2</text>
</g>

<!-- HEADINGS -->
<g fill="#3f3f3f" font-size="32" font-weight="bold">
<text x="110" y="1251" textLength="329" lengthAdjust="spacingAndGlyphs">WARENWIRTSCHAFT</text>
<text x="180" y="1526" textLength="203" lengthAdjust="spacingAndGlyphs">BACKOFFICE</text>
<text x="1439" y="1494" textLength="211" lengthAdjust="spacingAndGlyphs">RESTAURANT</text>
<text x="2060" y="636" textLength="107" lengthAdjust="spacingAndGlyphs">KÜCHE</text>
<text x="2194" y="1064" textLength="186" lengthAdjust="spacingAndGlyphs">TAKE-AWAY</text>
<text x="2194" y="1099" textLength="247" lengthAdjust="spacingAndGlyphs">ABHOLSTATION</text>
<text x="2584" y="1122" textLength="261" lengthAdjust="spacingAndGlyphs">SELF-ORDERING</text>
<text x="2589" y="1498" textLength="243" lengthAdjust="spacingAndGlyphs">LIEFERSERVICE</text>
<text x="2431" y="1789" textLength="296" lengthAdjust="spacingAndGlyphs">HOTEL-REZEPTION</text>
</g>

<!-- ITEMS -->
<g fill="#3f3f3f" font-size="26" font-weight="bold">
<text x="148" y="1317" textLength="351" lengthAdjust="spacingAndGlyphs">Bestandskontrolle &amp; Einkauf</text>
<text x="148" y="1381" textLength="321" lengthAdjust="spacingAndGlyphs">Lieferanten-Schnittstellen</text>
<text x="217" y="1584" textLength="333" lengthAdjust="spacingAndGlyphs">Filial- / Zentralverwaltung</text>
<text x="217" y="1641" textLength="315" lengthAdjust="spacingAndGlyphs">Personal-Einsatzplanung</text>
<text x="217" y="1698" textLength="271" lengthAdjust="spacingAndGlyphs">Digitales Kassenbuch</text>
<text x="217" y="1755" textLength="327" lengthAdjust="spacingAndGlyphs">CRM, Marketing &amp; Loyalty</text>
<text x="217" y="1812" textLength="175" lengthAdjust="spacingAndGlyphs">Eventplanung</text>
<text x="1477" y="1552" textLength="171" lengthAdjust="spacingAndGlyphs">Kassensystem</text>
<text x="1477" y="1611" textLength="362" lengthAdjust="spacingAndGlyphs">Mobile Kasse / Bezahlsystem</text>
<text x="1477" y="1670" textLength="229" lengthAdjust="spacingAndGlyphs">Schankmonitoring</text>
<text x="1477" y="1728" textLength="225" lengthAdjust="spacingAndGlyphs">Tischreservierung</text>
<text x="1477" y="1787" textLength="194" lengthAdjust="spacingAndGlyphs">Digital Signage</text>
<text x="1477" y="1845" textLength="193" lengthAdjust="spacingAndGlyphs">Self-Ordering /</text>
<text x="1477" y="1877" textLength="255" lengthAdjust="spacingAndGlyphs">Digitale Speisekarte</text>
<text x="2098" y="692" textLength="235" lengthAdjust="spacingAndGlyphs">Küchenmonitoring</text>
<text x="2098" y="751" textLength="193" lengthAdjust="spacingAndGlyphs">Servicemonitor</text>
<text x="2098" y="810" textLength="170" lengthAdjust="spacingAndGlyphs">Menüplanung</text>
<text x="2623" y="1188" textLength="255" lengthAdjust="spacingAndGlyphs">Digitale Speisekarte</text>
<text x="2623" y="1252" textLength="226" lengthAdjust="spacingAndGlyphs">Online-Bestellung</text>
<text x="2468" y="1850" textLength="345" lengthAdjust="spacingAndGlyphs">Schnittstelle Hotelsoftware</text>
<text x="2468" y="1907" textLength="172" lengthAdjust="spacingAndGlyphs">Bezahlsystem</text>
</g>

<text x="38" y="2035" font-size="21" fill="#444" textLength="243" lengthAdjust="spacingAndGlyphs">© Gewinnblick GmbH</text>
</svg>
</body></html>
